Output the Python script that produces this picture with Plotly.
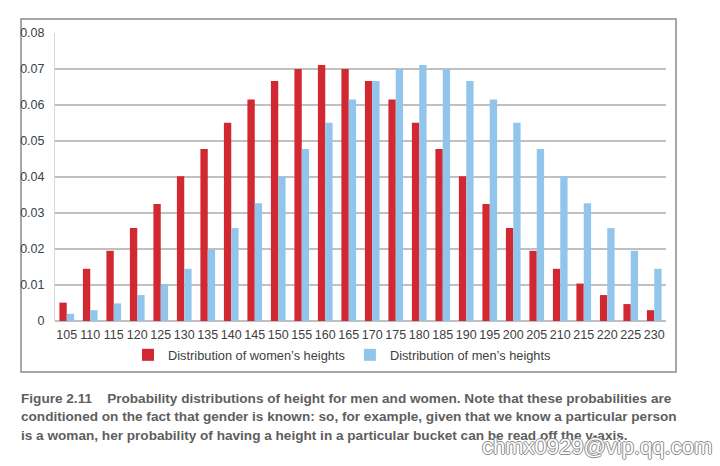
import plotly.graph_objects as go

heights = [105, 110, 115, 120, 125, 130, 135, 140, 145, 150, 155, 160, 165,
           170, 175, 180, 185, 190, 195, 200, 205, 210, 215, 220, 225, 230]
women = [0.0051, 0.0145, 0.0195, 0.0258, 0.0325, 0.0402, 0.0478, 0.0551, 0.0615,
         0.0667, 0.0700, 0.0711, 0.0700, 0.0667, 0.0615, 0.0551, 0.0478, 0.0402,
         0.0325, 0.0258, 0.0195, 0.0145, 0.0104, 0.0072, 0.0047, 0.0030]
men = [0.0020, 0.0030, 0.0049, 0.0072, 0.0103, 0.0145, 0.0198, 0.0258, 0.0327,
       0.0402, 0.0478, 0.0551, 0.0615, 0.0667, 0.0700, 0.0711, 0.0700, 0.0667,
       0.0615, 0.0551, 0.0478, 0.0402, 0.0327, 0.0258, 0.0195, 0.0145]
y_ticks = [0, 0.01, 0.02, 0.03, 0.04, 0.05, 0.06, 0.07, 0.08]
y_tick_text = ["0", "0.01", "0.02", "0.03", "0.04", "0.05", "0.06", "0.07", "0.08"]
caption_lines = [
    "Figure 2.11    Probability distributions of height for men and women. Note that these probabilities are",
    "conditioned on the fact that gender is known: so, for example, given that we know a particular person",
    "is a woman, her probability of having a height in a particular bucket can be read off the y-axis.",
]
watermark = "chmx0929@vip.qq.com"

W, H = 720, 466
L, R, T, B = 55, 666, 33, 321


def px(x):
    return (x - L) / (R - L)


def py(y):
    return (B - y) / (B - T)


cats = [str(h) for h in heights]
fig = go.Figure()
fig.add_trace(go.Bar(x=cats, y=women, name="Distribution of women\u2019s heights",
                     marker=dict(color="#d12832", line=dict(width=0))))
fig.add_trace(go.Bar(x=cats, y=men, name="Distribution of men\u2019s heights",
                     marker=dict(color="#92c5ec", line=dict(width=0))))

shapes = [dict(type="rect", xref="paper", yref="paper",
               x0=px(21), x1=px(676), y0=py(372), y1=py(19),
               line=dict(color="#8a8a8a", width=1.5), fillcolor="rgba(0,0,0,0)",
               layer="below")]

annotations = []
for i, line in enumerate(caption_lines):
    annotations.append(dict(
        text=line, xref="paper", yref="paper", x=px(19), y=py(398 + i * 18.5),
        xanchor="left", yanchor="middle", showarrow=False,
        font=dict(family="Liberation Sans, Arial, sans-serif",
                  size=13.6, color="#5e5e5e", weight="bold")))
annotations.append(dict(
    text=watermark, xref="paper", yref="paper", x=px(714), y=py(446),
    xanchor="right", yanchor="middle", showarrow=False,
    font=dict(family="Liberation Sans, Arial, sans-serif",
              size=22, color="#ffffff",
              shadow="1px 0 0 #8c8c8c, -1px 0 0 #8c8c8c, 0 1px 0 #8c8c8c, 0 -1px 0 #8c8c8c")))

fig.update_layout(
    width=W, height=H,
    margin=dict(l=L, r=W - R, t=T, b=H - B, pad=0),
    paper_bgcolor="white", plot_bgcolor="white",
    barmode="group", bargap=0.375, bargroupgap=0,
    font=dict(family="Liberation Sans, Arial, sans-serif", size=12.5, color="#404040"),
    showlegend=True,
    legend=dict(orientation="h", x=px(342), xanchor="center", y=py(355), yanchor="middle",
                font=dict(size=12.8, color="#404040"), itemwidth=30,
                traceorder="normal", bgcolor="rgba(0,0,0,0)"),
    shapes=shapes,
    annotations=annotations,
    xaxis=dict(type="category", showgrid=False, ticks="", showline=False,
               automargin=False, tickangle=0,
               tickfont=dict(size=12.5, color="#404040"), ticklabelstandoff=4),
    yaxis=dict(range=[0, 0.08], tickvals=y_ticks, ticktext=y_tick_text,
               automargin=False,
               showgrid=True, gridcolor="#c0c0c0", gridwidth=1.5,
               zeroline=True, zerolinecolor="#c0c0c0", zerolinewidth=1.5,
               showline=True, linecolor="#d8d8d8", linewidth=1,
               tickfont=dict(size=12.5, color="#404040"), ticklabelstandoff=7),
)

fig.write_html("out.html", post_script="document.body.style.margin='0';",
               config={"displayModeBar": False})
